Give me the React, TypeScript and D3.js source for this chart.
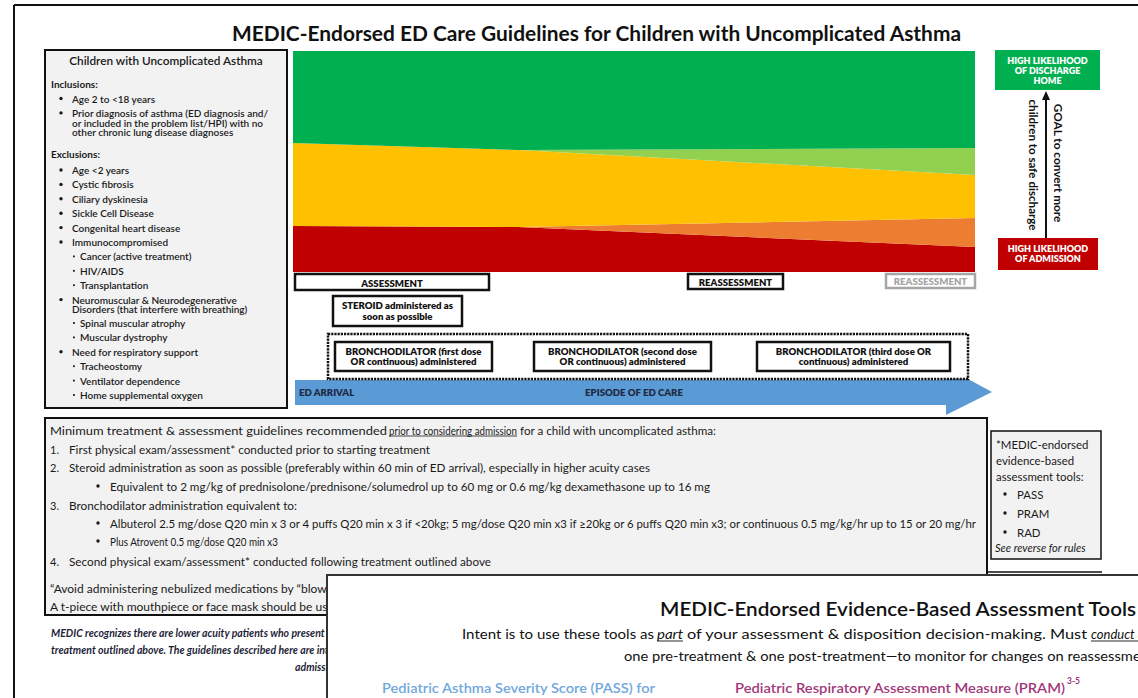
import React from "react";
import * as d3 from "d3";

// ---------- data ----------
const titleText = "MEDIC-Endorsed ED Care Guidelines for Children with Uncomplicated Asthma";

// episode-of-care progress (fraction of ED episode)
const episodeTimes = [0, 0.33, 1];
// share of patients (%) by likely disposition
const dischargeShare = [41.6, 44.8, 43.9];
const improvingShare = [0, 0, 12.2];
const moderateShare = [37.6, 34.8, 19.5];
const worseningShare = [0, 0, 13.1];
const admissionShare = [20.8, 20.4, 11.3];
const seriesKeys = ["admission", "worsening", "moderate", "improving", "discharge"];
const seriesColors: Record<string, string> = {
  admission: "#c00000",
  worsening: "#ed7d31",
  moderate: "#ffc000",
  improving: "#92d050",
  discharge: "#00b050",
};

const boxTitle = "Children with Uncomplicated Asthma";
const inclusionItems: string[][] = [
  ["Age 2 to <18 years"],
  [
    "Prior diagnosis of asthma (ED diagnosis and/",
    "or included in the problem list/HPI) with no",
    "other chronic lung disease diagnoses",
  ],
];
const exclusionItems: [string[], number][] = [
  [["Age <2 years"], 0],
  [["Cystic fibrosis"], 0],
  [["Ciliary dyskinesia"], 0],
  [["Sickle Cell Disease"], 0],
  [["Congenital heart disease"], 0],
  [["Immunocompromised"], 0],
  [["Cancer (active treatment)"], 1],
  [["HIV/AIDS"], 1],
  [["Transplantation"], 1],
  [["Neuromuscular & Neurodegenerative", "Disorders (that interfere with breathing)"], 0],
  [["Spinal muscular atrophy"], 1],
  [["Muscular dystrophy"], 1],
  [["Need for respiratory support"], 0],
  [["Tracheostomy"], 1],
  [["Ventilator dependence"], 1],
  [["Home supplemental oxygen"], 1],
];

const bronchoLabels = [
  ["BRONCHODILATOR (first dose", "OR continuous) administered"],
  ["BRONCHODILATOR (second dose", "OR continuous) administered"],
  ["BRONCHODILATOR (third dose OR", "continuous) administered"],
];

const asteriskLines = ["*MEDIC-endorsed", "evidence-based", "assessment tools:"];
const toolNames = ["PASS", "PRAM", "RAD"];

const disclaimerLines = [
  "MEDIC recognizes there are lower acuity patients who present with asthma exacerbations that may not require all of the",
  "treatment outlined above. The guidelines described here are intended for patients who are being considered for hospital",
  "admission.",
];

const FONT = "Lato, 'Open Sans', sans-serif";

export default function App() {
  // scales for the disposition band chart
  const x = d3.scaleLinear().domain([0, 1]).range([293, 975]);
  const y = d3.scaleLinear().domain([0, 100]).range([272, 51]);
  const rows = episodeTimes.map((t, i) => ({
    t,
    discharge: dischargeShare[i],
    improving: improvingShare[i],
    moderate: moderateShare[i],
    worsening: worseningShare[i],
    admission: admissionShare[i],
  }));
  const stacked = d3.stack<any>().keys(seriesKeys)(rows);
  const area = d3
    .area<any>()
    .x((d) => x(d.data.t))
    .y0((d) => y(d[0]))
    .y1((d) => y(d[1]));

  // left box layout
  const leftLines: React.ReactNode[] = [];
  let cy = 98.5;
  const step = 14.4;
  const cont = 9.6;
  const lt = { fontFamily: FONT, fontSize: 10, fontWeight: 600, fill: "#1a1a1a" } as const;
  leftLines.push(
    <text key="inc" x={51} y={84} dominantBaseline="central" {...lt} fontWeight={700}>
      Inclusions:
    </text>
  );
  inclusionItems.forEach((lines, i) => {
    leftLines.push(<circle key={"ib" + i} cx={61} cy={cy} r={1.7} fill="#1a1a1a" />);
    lines.forEach((l, j) =>
      leftLines.push(
        <text key={"i" + i + j} x={72} y={cy + j * cont} dominantBaseline="central" {...lt}>
          {l}
        </text>
      )
    );
    cy += (lines.length - 1) * cont + step;
  });
  const exHeader = cy + 7.5;
  leftLines.push(
    <text key="exc" x={51} y={exHeader} dominantBaseline="central" {...lt} fontWeight={700}>
      Exclusions:
    </text>
  );
  cy = exHeader + 16;
  exclusionItems.forEach(([lines, level], i) => {
    if (level === 0) leftLines.push(<circle key={"eb" + i} cx={61} cy={cy} r={1.7} fill="#1a1a1a" />);
    else leftLines.push(<rect key={"eb" + i} x={73} y={cy - 0.9} width={1.8} height={1.8} fill="#1a1a1a" />);
    lines.forEach((l, j) =>
      leftLines.push(
        <text key={"e" + i + j} x={level === 0 ? 72 : 80} y={cy + j * cont} dominantBaseline="central" {...lt}>
          {l}
        </text>
      )
    );
    cy += (lines.length - 1) * cont + step - (lines.length > 1 ? 0.6 : 0);
  });

  const bt = { fontFamily: FONT, fontSize: 9.6, fontWeight: 800, fill: "#111" } as const;
  const bronchoBoxes = [
    [335, 492],
    [534, 711],
    [757, 950],
  ];

  const mt = { fontFamily: FONT, fontSize: 11, fill: "#1a1a1a" } as const;

  return (
    <svg
      width={1138}
      height={698}
      style={{ position: "absolute", left: 0, top: 0, background: "#fff" }}
      xmlns="http://www.w3.org/2000/svg"
    >
      <defs>
        <clipPath id="underPage">
          <rect x={0} y={560} width={327} height={140} />
        </clipPath>
      </defs>

      {/* page frame */}
      <line x1={14} y1={5} x2={1138} y2={5} stroke="#111" strokeWidth={2} />
      <line x1={14} y1={5} x2={14} y2={698} stroke="#111" strokeWidth={2} />

      {/* title */}
      <text
        x={232}
        y={33}
        dominantBaseline="central"
        fontFamily={FONT}
        fontSize={20}
        fontWeight={700}
        fill="#111"
        textLength={729}
        lengthAdjust="spacingAndGlyphs"
      >
        {titleText}
      </text>

      {/* left criteria box */}
      <rect x={45} y={50} width={242} height={358} fill="#f2f2f2" stroke="#111" strokeWidth={2} />
      <text x={166} y={60} textAnchor="middle" dominantBaseline="central" fontFamily={FONT} fontSize={11.8} fontWeight={600} fill="#1a1a1a">
        {boxTitle}
      </text>
      {leftLines}

      {/* stacked disposition bands */}
      <g>
        {stacked.map((s) => (
          <path key={s.key} d={area(s as any) || ""} fill={seriesColors[s.key]} />
        ))}
      </g>

      {/* right side goal */}
      <rect x={995} y={50} width={105} height={40} fill="#00b050" />
      {["HIGH LIKELIHOOD", "OF DISCHARGE", "HOME"].map((t, i) => (
        <text key={t} x={1047.5} y={60 + i * 10} textAnchor="middle" dominantBaseline="central" fontFamily={FONT} fontSize={9} fontWeight={800} fill="#fff">
          {t}
        </text>
      ))}
      <rect x={998} y={238} width={100} height={32} fill="#c00000" />
      {["HIGH LIKELIHOOD", "OF ADMISSION"].map((t, i) => (
        <text key={t} x={1048} y={248 + i * 10} textAnchor="middle" dominantBaseline="central" fontFamily={FONT} fontSize={9} fontWeight={800} fill="#fff">
          {t}
        </text>
      ))}
      <line x1={1046} y1={238} x2={1046} y2={98} stroke="#111" strokeWidth={2} />
      <path d="M1046,91 L1042,100 L1050,100 Z" fill="#111" />
      <text
        transform="translate(1058,163) rotate(90)"
        textAnchor="middle"
        dominantBaseline="central"
        fontFamily={FONT}
        fontSize={11.8}
        fontWeight={700}
        fill="#111"
      >
        GOAL to convert more
      </text>
      <text
        transform="translate(1033,165) rotate(90)"
        textAnchor="middle"
        dominantBaseline="central"
        fontFamily={FONT}
        fontSize={11.6}
        fontWeight={700}
        fill="#111"
      >
        children to safe discharge
      </text>

      {/* timeline boxes */}
      <rect x={295} y={274} width={194} height={16} fill="#fff" stroke="#111" strokeWidth={2.5} />
      <text x={392} y={283} textAnchor="middle" dominantBaseline="central" {...bt}>ASSESSMENT</text>
      <rect x={688} y={274} width={95} height={15} fill="#fff" stroke="#111" strokeWidth={2.5} />
      <text x={735.5} y={282} textAnchor="middle" dominantBaseline="central" {...bt}>REASSESSMENT</text>
      <rect x={886} y={274} width={89} height={14} fill="#fff" stroke="#a6a6a6" strokeWidth={2.5} />
      <text x={930.5} y={281.5} textAnchor="middle" dominantBaseline="central" {...bt} fill="#a6a6a6">REASSESSMENT</text>

      <rect x={333} y={296} width={129} height={30} fill="#fff" stroke="#111" strokeWidth={2.5} />
      <text x={397.5} y={305} textAnchor="middle" dominantBaseline="central" {...bt}>STEROID administered as</text>
      <text x={397.5} y={316} textAnchor="middle" dominantBaseline="central" {...bt}>soon as possible</text>

      {/* blue episode arrow */}
      <path d="M295,380 L946,380 L946,367 L992,392 L946,415 L946,405 L295,405 Z" fill="#5b9bd5" />
      <text x={299} y={392} dominantBaseline="central" {...bt} fill="#1f2a44">ED ARRIVAL</text>
      <text x={634} y={392} textAnchor="middle" dominantBaseline="central" {...bt} fill="#1f2a44">EPISODE OF ED CARE</text>

      <rect x={328} y={334} width={640} height={45} fill="#fff" stroke="#111" strokeWidth={2.5} strokeDasharray="2.2 1" />
      {bronchoBoxes.map(([a, b], i) => (
        <g key={i}>
          <rect x={a} y={342} width={b - a} height={29} fill="#fff" stroke="#111" strokeWidth={2.5} />
          {bronchoLabels[i].map((t, j) => (
            <text key={j} x={(a + b) / 2} y={351 + j * 10} textAnchor="middle" dominantBaseline="central" {...bt}>
              {t}
            </text>
          ))}
        </g>
      ))}

      {/* main guideline text box */}
      <rect x={45} y={418} width={942} height={197} fill="#f2f2f2" stroke="#111" strokeWidth={2} />
      <text x={50} y={430} dominantBaseline="central" {...mt} textLength={337} lengthAdjust="spacingAndGlyphs">
        Minimum treatment &amp; assessment guidelines recommended
      </text>
      <text x={389} y={430} dominantBaseline="central" {...mt} textLength={128} lengthAdjust="spacingAndGlyphs">
        prior to considering admission
      </text>
      <line x1={389} y1={436} x2={517} y2={436} stroke="#1a1a1a" strokeWidth={0.8} />
      <text x={520} y={430} dominantBaseline="central" {...mt} textLength={196} lengthAdjust="spacingAndGlyphs">
        for a child with uncomplicated asthma:
      </text>

      <text x={50} y={449} dominantBaseline="central" {...mt}>1.</text>
      <text x={69} y={449} dominantBaseline="central" {...mt} textLength={361} lengthAdjust="spacingAndGlyphs">
        First physical exam/assessment* conducted prior to starting treatment
      </text>
      <text x={50} y={467} dominantBaseline="central" {...mt}>2.</text>
      <text x={69} y={467} dominantBaseline="central" {...mt} textLength={581} lengthAdjust="spacingAndGlyphs">
        Steroid administration as soon as possible (preferably within 60 min of ED arrival), especially in higher acuity cases
      </text>
      <circle cx={98} cy={486} r={1.7} fill="#1a1a1a" />
      <text x={110} y={486} dominantBaseline="central" {...mt} textLength={600} lengthAdjust="spacingAndGlyphs">
        Equivalent to 2 mg/kg of prednisolone/prednisone/solumedrol up to 60 mg or 0.6 mg/kg dexamethasone up to 16 mg
      </text>
      <text x={50} y={505} dominantBaseline="central" {...mt}>3.</text>
      <text x={69} y={505} dominantBaseline="central" {...mt} textLength={228} lengthAdjust="spacingAndGlyphs">
        Bronchodilator administration equivalent to:
      </text>
      <circle cx={98} cy={523} r={1.7} fill="#1a1a1a" />
      <text x={110} y={523} dominantBaseline="central" {...mt} textLength={866} lengthAdjust="spacingAndGlyphs">
        Albuterol 2.5 mg/dose Q20 min x 3 or 4 puffs Q20 min x 3 if &lt;20kg; 5 mg/dose Q20 min x3 if ≥20kg or 6 puffs Q20 min x3; or continuous 0.5 mg/kg/hr up to 15 or 20 mg/hr
      </text>
      <circle cx={98} cy={541} r={1.7} fill="#1a1a1a" />
      <text x={110} y={541} dominantBaseline="central" {...mt} textLength={168} lengthAdjust="spacingAndGlyphs">
        Plus Atrovent 0.5 mg/dose Q20 min x3
      </text>
      <text x={50} y={561} dominantBaseline="central" {...mt}>4.</text>
      <text x={69} y={561} dominantBaseline="central" {...mt} textLength={422} lengthAdjust="spacingAndGlyphs">
        Second physical exam/assessment* conducted following treatment outlined above
      </text>
      <g clipPath="url(#underPage)">
        <text x={50} y={588} dominantBaseline="central" {...mt} fontSize={12}>
          “Avoid administering nebulized medications by “blow by” method as it is not effective.”
        </text>
        <text x={50} y={606} dominantBaseline="central" {...mt} fontSize={12}>
          A t-piece with mouthpiece or face mask should be used instead.
        </text>
      </g>

      {/* assessment tool note */}
      <line x1={987} y1={572} x2={1102} y2={572} stroke="#111" strokeWidth={1.5} />
      <rect x={991} y={431} width={110} height={128} fill="#f2f2f2" stroke="#111" strokeWidth={1.5} />
      {asteriskLines.map((t, i) => (
        <text key={t} x={996} y={444 + i * 16} dominantBaseline="central" fontFamily={FONT} fontSize={11.4} fill="#1a1a1a">
          {t}
        </text>
      ))}
      {toolNames.map((t, i) => (
        <g key={t}>
          <circle cx={1005} cy={494 + i * 19} r={1.7} fill="#1a1a1a" />
          <text x={1017} y={494 + i * 19} dominantBaseline="central" fontFamily={FONT} fontSize={11.4} fill="#1a1a1a">
            {t}
          </text>
        </g>
      ))}
      <text x={995} y={547} dominantBaseline="central" fontFamily={FONT} fontSize={11} fontStyle="italic" fill="#1a1a1a">
        See reverse for rules
      </text>

      {/* italic disclaimer */}
      <g clipPath="url(#underPage)">
        {disclaimerLines.map((t, i) => (
          <text
            key={i}
            x={i < 2 ? 51 : 295}
            y={633 + i * 17}
            dominantBaseline="central"
            fontFamily={FONT}
            fontSize={10.5}
            fontStyle="italic"
            fontWeight={700}
            fill="#1f1f3a"
          >
            {t}
          </text>
        ))}
      </g>

      {/* overlapping reverse page */}
      <rect x={327} y={575} width={830} height={140} fill="#fff" stroke="#333" strokeWidth={2} />
      <text
        x={660}
        y={608}
        dominantBaseline="central"
        fontFamily={FONT}
        fontSize={19}
        fontWeight={600}
        fill="#111"
        textLength={476}
        lengthAdjust="spacingAndGlyphs"
      >
        MEDIC-Endorsed Evidence-Based Assessment Tools
      </text>
      <text x={462} y={634} dominantBaseline="central" fontFamily={FONT} fontSize={13} fill="#111" textLength={192} lengthAdjust="spacingAndGlyphs">
        Intent is to use these tools as
      </text>
      <text x={657} y={634} dominantBaseline="central" fontFamily={FONT} fontSize={13} fontStyle="italic" fill="#111" textLength={26} lengthAdjust="spacingAndGlyphs">
        part
      </text>
      <line x1={657} y1={641} x2={683} y2={641} stroke="#111" strokeWidth={0.9} />
      <text x={687} y={634} dominantBaseline="central" fontFamily={FONT} fontSize={13} fill="#111" textLength={400} lengthAdjust="spacingAndGlyphs">
        of your assessment &amp; disposition decision-making. Must
      </text>
      <text x={1091} y={634} dominantBaseline="central" fontFamily={FONT} fontSize={13} fontStyle="italic" fill="#111">
        conduct &amp; record
      </text>
      <line x1={1091} y1={641} x2={1138} y2={641} stroke="#111" strokeWidth={0.9} />
      <text x={624} y={656} dominantBaseline="central" fontFamily={FONT} fontSize={13} fill="#111" textLength={530} lengthAdjust="spacingAndGlyphs">
        one pre-treatment &amp; one post-treatment—to monitor for changes on reassessment
      </text>
      <text x={382} y={688} dominantBaseline="central" fontFamily={FONT} fontSize={13.5} fontWeight={600} fill="#6fa8dc" textLength={273} lengthAdjust="spacingAndGlyphs">
        Pediatric Asthma Severity Score (PASS) for
      </text>
      <text x={735} y={688} dominantBaseline="central" fontFamily={FONT} fontSize={13.5} fontWeight={600} fill="#a0397a" textLength={330} lengthAdjust="spacingAndGlyphs">
        Pediatric Respiratory Assessment Measure (PRAM)
      </text>
      <text x={1067} y={681} dominantBaseline="central" fontFamily={FONT} fontSize={8.5} fontWeight={700} fill="#a0397a">
        3-5
      </text>
    </svg>
  );
}
